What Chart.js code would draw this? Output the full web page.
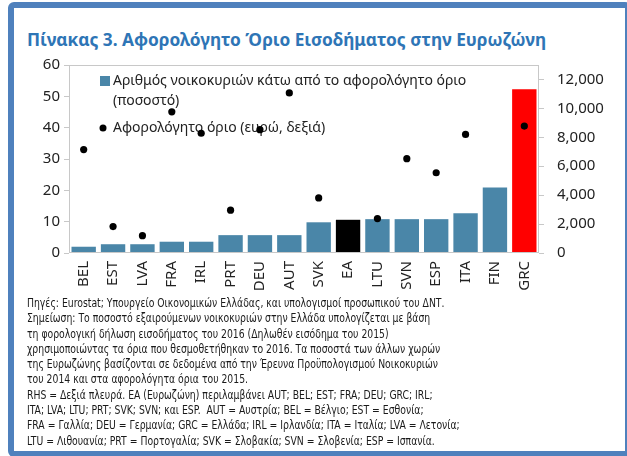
<!DOCTYPE html>
<html>
<head>
<meta charset="utf-8">
<script src="https://cdn.jsdelivr.net/npm/chart.js@4.4.1/dist/chart.umd.min.js"></script>
<style>
  body { margin: 0; background: #fff; width: 627px; height: 456px; overflow: hidden; position: relative; }
  #frame {
    position: absolute; left: 8px; top: 2px; width: 611px; height: 443px;
    border: 6px solid #4f81bd; border-radius: 6px; background: #fff;
  }
  #title {
    position: absolute; left: 27px; top: 28px; font-family: 'Noto Sans', sans-serif;
    font-weight: bold; font-size: 17.3px; color: #2e75b6; white-space: nowrap;
  }
  #box { position: absolute; left: 14px; top: 43px; width: 611px; height: 257px; }
  #notes {
    position: absolute; left: 27px; top: 296px; font-family: 'DejaVu Sans Condensed', 'Liberation Sans Narrow', sans-serif;
    font-size: 12px; line-height: 15.3px; color: #1a1a1a; white-space: pre;
    transform: scaleX(0.86); transform-origin: left top;
  }
</style>
</head>
<body>
<div id="frame"></div>
<div id="title">Πίνακας 3.  Αφορολόγητο Όριο Εισοδήματος στην Ευρωζώνη</div>
<div id="box"><canvas id="incomeChart"></canvas></div>
<div id="notes">Πηγές: Eurostat; Υπουργείο Οικονομικών Ελλάδας, και υπολογισμοί προσωπικού του ΔΝΤ.
Σημείωση: Το ποσοστό εξαιρούμενων νοικοκυριών στην Ελλάδα υπολογίζεται με βάση
τη φορολογική δήλωση εισοδήματος του 2016 (Δηλωθέν εισόδημα του 2015)
χρησιμοποιώντας τα όρια που θεσμοθετήθηκαν το 2016. Τα ποσοστά των άλλων χωρών
της Ευρωζώνης βασίζονται σε δεδομένα από την Έρευνα Προϋπολογισμού Νοικοκυριών
του 2014 και στα αφορολόγητα όρια του 2015.
RHS = Δεξιά πλευρά. ΕΑ (Ευρωζώνη) περιλαμβάνει AUT; BEL; EST; FRA; DEU; GRC; IRL;
ITA; LVA; LTU; PRT; SVK; SVN; και ESP.  AUT = Αυστρία; BEL = Βέλγιο; EST = Εσθονία;
FRA = Γαλλία; DEU = Γερμανία; GRC = Ελλάδα; IRL = Ιρλανδία; ITA = Ιταλία; LVA = Λετονία;
LTU = Λιθουανία; PRT = Πορτογαλία; SVK = Σλοβακία; SVN = Σλοβενία; ESP = Ισπανία.</div>
<script>
const countries = ['BEL', 'EST', 'LVA', 'FRA', 'IRL', 'PRT', 'DEU', 'AUT', 'SVK', 'EA', 'LTU', 'SVN', 'ESP', 'ITA', 'FIN', 'GRC'];
// share of households below the threshold (%, left axis)
const householdsShare = [2, 2.8, 2.8, 3.6, 3.6, 5.7, 5.7, 5.7, 9.8, 10.6, 10.8, 10.8, 10.8, 12.7, 20.9, 52.3];
// tax-free threshold (euro, right axis)
const taxFreeLimit = [7150, 1830, 1200, 9760, 8280, 2960, 8530, 11070, 3810, null, 2380, 6520, 5550, 8200, null, 8780];
const leftTicks = [0, 10, 20, 30, 40, 50, 60];
const rightTicks = [0, 2000, 4000, 6000, 8000, 10000, 12000];

const barLabel = ['Αριθμός νοικοκυριών κάτω από το αφορολόγητο όριο', '(ποσοστό)'];
const dotLabel = 'Αφορολόγητο όριο (ευρώ, δεξιά)';

const barColors = countries.map(c => c === 'EA' ? '#000000' : (c === 'GRC' ? '#ff0000' : '#4a86a8'));

const fontFamily = "'Noto Sans', sans-serif";
const textColor = '#222';

// legend drawn inside the plot, under the dots
const insideLegend = {
  id: 'insideLegend',
  beforeDatasetsDraw(chart) {
    const { ctx, chartArea } = chart;
    const x0 = chartArea.left, y0 = chartArea.top;
    ctx.save();
    ctx.font = '14px ' + fontFamily;
    ctx.textBaseline = 'middle';
    ctx.fillStyle = '#4a86a8';
    ctx.fillRect(x0 + 31, y0 + 11, 10, 10);
    ctx.fillStyle = textColor;
    ctx.fillText(barLabel[0], x0 + 44, y0 + 16);
    ctx.fillText(barLabel[1], x0 + 44, y0 + 36);
    ctx.beginPath();
    ctx.arc(x0 + 34, y0 + 63, 3.5, 0, Math.PI * 2);
    ctx.fillStyle = '#000';
    ctx.fill();
    ctx.fillStyle = textColor;
    ctx.fillText(dotLabel, x0 + 44, y0 + 63);
    ctx.restore();
  }
};

// light frame round the plot
const plotFrame = {
  id: 'plotFrame',
  afterDatasetsDraw(chart) {
    const { ctx, chartArea } = chart;
    ctx.save();
    ctx.strokeStyle = '#c8c8c8';
    ctx.lineWidth = 1;
    ctx.strokeRect(chartArea.left + 0.5, chartArea.top + 0.5, chartArea.width - 1, chartArea.height - 1);
    ctx.restore();
  }
};

const ctx = document.getElementById('incomeChart').getContext('2d');
const incomeChart = new Chart(ctx, {
  type: 'bar',
  data: {
    labels: countries,
    datasets: [{
      type: 'line',
      label: dotLabel,
      data: taxFreeLimit,
      yAxisID: 'y2',
      showLine: false,
      pointRadius: 3.6,
      pointBackgroundColor: '#000',
      pointBorderWidth: 0,
      order: 1
    }, {
      label: barLabel.join(' '),
      data: householdsShare,
      backgroundColor: barColors,
      borderWidth: 0,
      barPercentage: 0.83,
      categoryPercentage: 1,
      yAxisID: 'y',
      order: 2
    }]
  },
  options: {
    responsive: true,
    maintainAspectRatio: false,
    animation: false,
    layout: { padding: { top: 8, left: 0, right: 0, bottom: 0 } },
    plugins: {
      legend: { display: false },
      tooltip: { enabled: false }
    },
    scales: {
      x: {
        grid: { display: false, drawTicks: false },
        border: { display: false },
        ticks: {
          color: textColor, font: { family: fontFamily, size: 15 },
          minRotation: 90, maxRotation: 90, padding: 8, autoSkip: false
        },
        afterFit: (scale) => { scale.height = 47; }
      },
      y: {
        position: 'left',
        min: 0, max: 60,
        afterBuildTicks: (axis) => { axis.ticks = leftTicks.map(v => ({ value: v })); },
        grid: { drawOnChartArea: false, color: '#c8c8c8', tickLength: 5 },
        border: { display: false },
        ticks: { color: textColor, font: { family: fontFamily, size: 15 }, padding: 4 },
        afterFit: (scale) => { scale.width = 55; }
      },
      y2: {
        position: 'right',
        min: 0, max: 13000,
        afterBuildTicks: (axis) => { axis.ticks = rightTicks.map(v => ({ value: v })); },
        grid: { drawOnChartArea: false, color: '#c8c8c8', tickLength: 5 },
        border: { display: false },
        ticks: {
          color: textColor, font: { family: fontFamily, size: 15 }, padding: 13,
          callback: (v) => v.toLocaleString('en-US')
        },
        afterFit: (scale) => { scale.width = 86; }
      }
    }
  },
  plugins: [insideLegend, plotFrame]
});
</script>
</body>
</html>
